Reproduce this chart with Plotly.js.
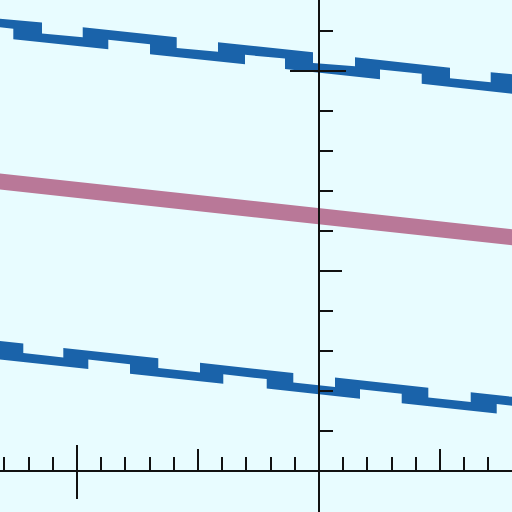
<!DOCTYPE html>
<html>
<head>
<meta charset="utf-8">
<script src="https://cdn.plot.ly/plotly-3.0.1.min.js"></script>
<style>html,body{margin:0;padding:0;background:#e8fcff;}#chart{width:512px;height:512px;}</style>
</head>
<body>
<div id="chart"></div>
<script>
// Upper blue band: top edge and bottom edge (data units)
const topUpperX = [-1.34, -1.1446, -1.1446, -0.9764, -0.9764, -0.5880, -0.5880, -0.4174, -0.4174, -0.0248, -0.0248, 0.1488, 0.1488, 0.5413, 0.5413, 0.7095, 0.7095, 0.8182];
const topUpperY = [1.1315, 1.1210, 1.0940, 1.0843, 1.1093, 1.0843, 1.0575, 1.0480, 1.0720, 1.0468, 1.0203, 1.0118, 1.0343, 1.0080, 0.9820, 0.9720, 0.9970, 0.9910];
const topLowerX = [-1.34, -1.2632, -1.2632, -0.8707, -0.8707, -0.6983, -0.6983, -0.3058, -0.3058, -0.1405, -0.1405, 0.2521, 0.2521, 0.4244, 0.4244, 0.8182];
const topLowerY = [1.1108, 1.1055, 1.0795, 1.0545, 1.0780, 1.0670, 1.0420, 1.0168, 1.0405, 1.0310, 1.0050, 0.9795, 1.0038, 0.9930, 0.9680, 0.9420];

// Lower blue band
const botUpperX = [-1.34, -1.2219, -1.2219, -1.0566, -1.0566, -0.6641, -0.6641, -0.4917, -0.4917, -0.1062, -0.1062, 0.0661, 0.0661, 0.4517, 0.4517, 0.6269, 0.6269, 0.8182];
const botUpperY = [0.3265, 0.3188, 0.2950, 0.2840, 0.3078, 0.2818, 0.2575, 0.2463, 0.2705, 0.2450, 0.2210, 0.2098, 0.2338, 0.2083, 0.1838, 0.1728, 0.1968, 0.1840];
const botLowerX = [-1.34, -0.9533, -0.9533, -0.7810, -0.7810, -0.3955, -0.3955, -0.2161, -0.2161, 0.1694, 0.1694, 0.3417, 0.3417, 0.7343, 0.7343, 0.8182];
const botLowerY = [0.2803, 0.2548, 0.2785, 0.2670, 0.2433, 0.2180, 0.2418, 0.2298, 0.2060, 0.1808, 0.2045, 0.1930, 0.1693, 0.1435, 0.1673, 0.1615];

// Middle pink line
const midX = [-1.34, 0.8182];
const midY = [0.7253, 0.5830];

const xRange = [-1.3182, 0.7975];
const yRange = [-0.1025, 1.1775];

const BLUE = '#1a63aa';
const PINK = '#b97898';
const AX = '#111111';
const BG = '#e8fcff';

function band(ux, uy, lx, ly) {
  return {
    x: ux.concat(lx.slice().reverse()),
    y: uy.concat(ly.slice().reverse()),
    mode: 'lines', fill: 'toself', fillcolor: BLUE,
    line: {width: 0, color: BLUE}, hoverinfo: 'skip'
  };
}

const traces = [
  band(topUpperX, topUpperY, topLowerX, topLowerY),
  band(botUpperX, botUpperY, botLowerX, botLowerY),
  {x: midX, y: midY, mode: 'lines', line: {color: PINK, width: 16}, hoverinfo: 'skip'},
  {x: [], y: [], xaxis: 'x2', yaxis: 'y2', mode: 'lines', hoverinfo: 'skip'},
  {x: [], y: [], xaxis: 'x3', yaxis: 'y3', mode: 'lines', hoverinfo: 'skip'}
];

const xPos = (0 - yRange[0]) / (yRange[1] - yRange[0]);
const yPos = (0 - xRange[0]) / (xRange[1] - xRange[0]);

const baseX = {range: xRange, anchor: 'free', position: xPos, showgrid: false, zeroline: false,
  showticklabels: false, tickcolor: AX, tickwidth: 2};
const baseY = {range: yRange, anchor: 'free', position: yPos, showgrid: false, zeroline: false,
  showticklabels: false, tickcolor: AX, tickwidth: 2};

const layout = {
  width: 512, height: 512,
  margin: {l: 0, r: 0, t: 0, b: 0, pad: 0},
  paper_bgcolor: BG, plot_bgcolor: BG,
  showlegend: false,
  xaxis: Object.assign({}, baseX, {showline: true, linecolor: AX, linewidth: 2,
    ticks: 'inside', tick0: 0, dtick: 0.5, ticklen: 21,
    minor: {ticks: 'inside', tick0: 0, dtick: 0.1, ticklen: 13, tickwidth: 2, tickcolor: AX}}),
  xaxis2: Object.assign({}, baseX, {overlaying: 'x', showline: false, tickmode: 'array', tickvals: [-1], ticks: 'inside', ticklen: 26}),
  xaxis3: Object.assign({}, baseX, {overlaying: 'x', showline: false, tickmode: 'array', tickvals: [-1], ticks: 'outside', ticklen: 27}),
  yaxis: Object.assign({}, baseY, {showline: true, linecolor: AX, linewidth: 2,
    ticks: 'inside', tick0: 0, dtick: 0.5, ticklen: 22,
    minor: {ticks: 'inside', tick0: 0, dtick: 0.1, ticklen: 13, tickwidth: 2, tickcolor: AX}}),
  yaxis2: Object.assign({}, baseY, {overlaying: 'y', showline: false, tickmode: 'array', tickvals: [1], ticks: 'inside', ticklen: 26}),
  yaxis3: Object.assign({}, baseY, {overlaying: 'y', showline: false, tickmode: 'array', tickvals: [1], ticks: 'outside', ticklen: 29})
};

Plotly.newPlot('chart', traces, layout, {staticPlot: true, displayModeBar: false});
</script>
</body>
</html>
